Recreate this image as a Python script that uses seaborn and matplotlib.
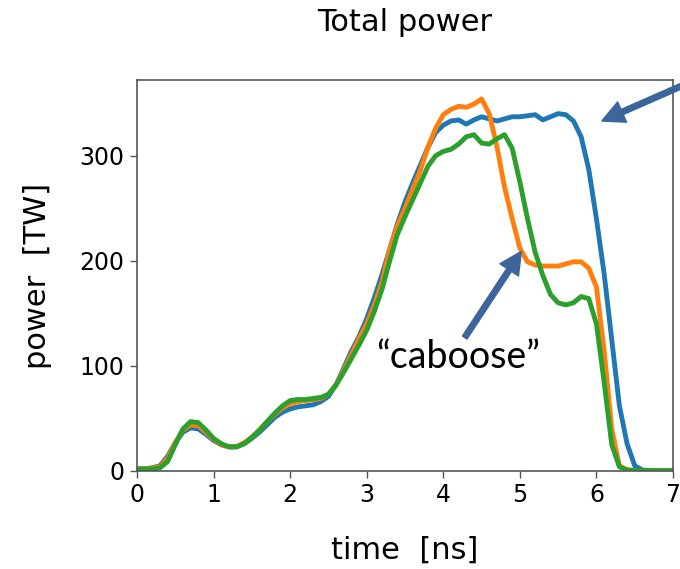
import matplotlib
matplotlib.use("Agg")
import matplotlib.pyplot as plt
import seaborn as sns
import pandas as pd

# ---- data ----
time_ns = [0.0, 0.1, 0.2, 0.3, 0.4, 0.5, 0.6, 0.7, 0.8, 0.9,
           1.0, 1.1, 1.2, 1.3, 1.4, 1.5, 1.6, 1.7, 1.8, 1.9,
           2.0, 2.1, 2.2, 2.3, 2.4, 2.5, 2.6, 2.7, 2.8, 2.9,
           3.0, 3.1, 3.2, 3.3, 3.4, 3.5, 3.6, 3.7, 3.8, 3.9,
           4.0, 4.1, 4.2, 4.3, 4.4, 4.5, 4.6, 4.7, 4.8, 4.9,
           5.0, 5.1, 5.2, 5.3, 5.4, 5.5, 5.6, 5.7, 5.8, 5.9,
           6.0, 6.1, 6.2, 6.3, 6.4, 6.5, 6.6, 6.7, 6.8, 6.9, 7.0]

power_blue = [2, 2, 3, 5, 14, 27, 37, 41, 40, 35,
              29, 25, 23, 23, 26, 31, 37, 44, 51, 56,
              59, 61, 62, 63, 66, 71, 82, 98, 114, 128,
              145, 165, 187, 211, 235, 256, 274, 291, 308, 322,
              329, 333, 334, 330, 334, 337, 335, 333, 335, 337,
              337, 338, 339, 334, 337, 340, 339, 333, 318, 287,
              240, 188, 125, 62, 26, 5, 1, 0.5, 0.5, 0.5, 0.5]

power_orange = [2, 2, 3, 4, 12, 27, 39, 44, 43, 37,
                30, 25, 23, 23, 27, 32, 39, 47, 54, 60,
                64, 66, 67, 68, 69, 73, 82, 96, 111, 126,
                140, 158, 180, 211, 233, 250, 268, 286, 308, 326,
                339, 344, 347, 346, 349, 354, 340, 309, 270, 240,
                212, 199, 196, 195, 195, 195, 197, 199, 199, 193,
                175, 115, 40, 5, 1, 0.5, 0.5, 0.5, 0.5, 0.5, 0.5]

power_green = [2, 2, 2, 3, 9, 25, 40, 47, 46, 39,
               31, 26, 23, 23, 26, 32, 39, 47, 55, 62,
               67, 68, 68, 69, 70, 73, 82, 94, 107, 120,
               134, 152, 173, 200, 225, 242, 258, 274, 290, 300,
               304, 306, 311, 318, 320, 312, 311, 316, 320, 307,
               275, 240, 208, 186, 168, 160, 158, 160, 166, 164,
               140, 85, 25, 4, 1, 0.5, 0.5, 0.5, 0.5, 0.5, 0.5]

series_names = ["blue", "orange", "green"]
series_colors = ["#1f77b4", "#ff7f0e", "#2ca02c"]
x_ticks = [0, 1, 2, 3, 4, 5, 6, 7]
y_ticks = [0, 100, 200, 300]

df = pd.concat([
    pd.DataFrame({"time": time_ns, "power": vals, "run": name})
    for name, vals in zip(series_names, [power_blue, power_orange, power_green])
], ignore_index=True)

sns.set_style("ticks")
plt.rcParams["font.family"] = ["DejaVu Sans"]
plt.rcParams["text.color"] = "black"
plt.rcParams["axes.labelcolor"] = "black"
plt.rcParams["xtick.color"] = "black"
plt.rcParams["ytick.color"] = "black"

fig = plt.figure(figsize=(6.8, 5.69), dpi=100)
ax = fig.add_axes([137 / 680, 1 - 471 / 569, (673 - 137) / 680, (471 - 80) / 569])

sns.lineplot(data=df, x="time", y="power", hue="run", hue_order=series_names,
             palette=series_colors, linewidth=3.5, legend=False, ax=ax,
             estimator=None, sort=False)

ax.set_xlim(0, 7)
ax.set_ylim(0, 372)
ax.set_xticks(x_ticks)
ax.set_yticks(y_ticks)
ax.tick_params(labelsize=17, length=5, width=1, colors="black", pad=4)
ax.tick_params(color="#555555")
for s in ax.spines.values():
    s.set_visible(True)
    s.set_color("#555555")
    s.set_linewidth(1.2)

ax.set_title("Total power", fontsize=22, pad=35, color="black")
ax.set_xlabel("time  [ns]", fontsize=22, labelpad=20, color="black")
ax.set_ylabel("power  [TW]", fontsize=22, labelpad=20, color="black")

arrow_color = "#3C669B"
ap = dict(arrowstyle="simple,head_length=1.0,head_width=1.0,tail_width=0.25",
          color=arrow_color, mutation_scale=16, shrinkA=0, shrinkB=0)
ax.annotate("", xy=(6.07, 333), xytext=(7.1, 366), arrowprops=ap,
            annotation_clip=False)
ax.annotate("", xy=(5.02, 209), xytext=(4.28, 127), arrowprops=ap,
            annotation_clip=False)

ax.text(4.2, 108, "\u201ccaboose\u201d", fontsize=27, family=["Lato", "DejaVu Sans"],
        ha="center", va="center", color="black")

fig.savefig("out.png", dpi=100)
